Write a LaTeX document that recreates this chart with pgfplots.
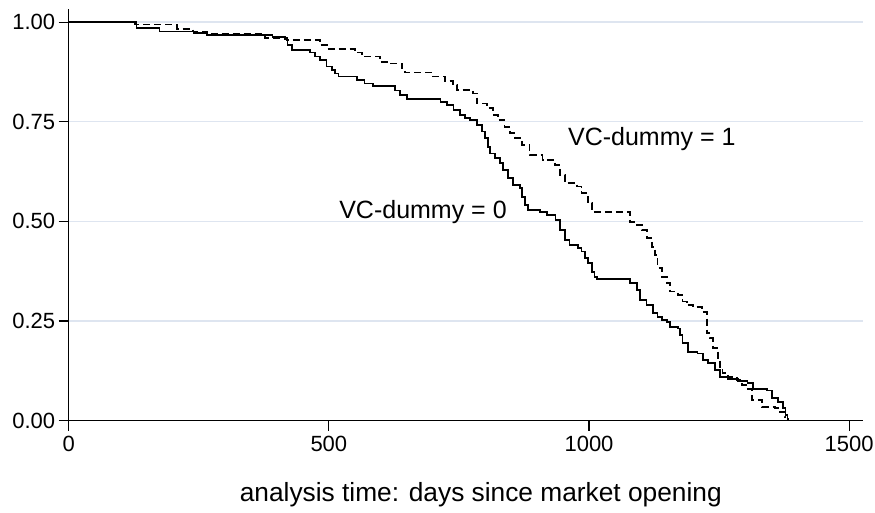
\documentclass[border=0pt]{standalone}
\usepackage{fontspec}
\setmainfont{Liberation Sans}
\usepackage{pgfplots}
\pgfplotsset{compat=1.18}

\definecolor{gridc}{RGB}{222,229,240}

\begin{document}
\begin{tikzpicture}
\useasboundingbox (-68.7pt,-91.3pt) rectangle (806.3pt,420.7pt);
\begin{axis}[
    at={(0,0)}, anchor=south west,
    scale only axis,
    width=794pt, height=411.4pt,
    xmin=0, xmax=1526,
    ymin=0, ymax=1.032,
    axis lines=left,
    axis line style={-, line width=1.3pt},
    xtick={0,500,1000,1500},
    xticklabels={0,500,1000,1500},
    ytick={0,0.25,0.5,0.75,1},
    yticklabels={0.00,0.25,0.50,0.75,1.00},
    tick align=outside,
    major tick length=10pt,
    tick style={black, line width=1.1pt},
    ymajorgrids,
    grid style={gridc, line width=1.2pt},
    ticklabel style={font=\fontsize{22}{26}\selectfont},
    xticklabel style={yshift=-2pt},
    xlabel={analysis time: days since market opening},
    xlabel style={font=\fontsize{26.3}{31}\selectfont, anchor=base,
        at={(axis description cs:0.519,0)}, yshift=-81pt},
    clip=false,
]

% VC-dummy = 0 (solid)
\addplot[const plot, black, line width=1.4pt] table {
0 1.000
130 0.985
175 0.977
240 0.973
265 0.968
392 0.963
416 0.957
421 0.942
429 0.930
464 0.923
473 0.913
483 0.905
496 0.888
506 0.880
512 0.871
518 0.863
554 0.855
569 0.846
585 0.840
627 0.829
637 0.817
650 0.807
714 0.799
727 0.792
739 0.779
752 0.767
762 0.759
771 0.754
785 0.742
794 0.725
800 0.709
806 0.687
810 0.671
819 0.659
829 0.646
835 0.629
844 0.609
854 0.591
867 0.584
871 0.561
877 0.541
883 0.529
906 0.524
919 0.516
935 0.503
944 0.478
954 0.453
963 0.441
979 0.433
986 0.424
992 0.408
998 0.396
1006 0.373
1011 0.360
1015 0.355
1079 0.345
1092 0.328
1098 0.303
1111 0.290
1123 0.270
1132 0.260
1140 0.253
1150 0.248
1156 0.235
1171 0.231
1175 0.215
1180 0.195
1190 0.172
1209 0.169
1219 0.152
1229 0.145
1242 0.127
1252 0.110
1267 0.105
1286 0.100
1305 0.095
1315 0.080
1342 0.076
1352 0.057
1363 0.047
1373 0.032
1378 0.014
1382 0.004
1384 0.004
};

% VC-dummy = 1 (dashed)
\addplot[const plot, black, line width=1.5pt, dash pattern=on 7pt off 4pt] table {
0 1.000
127 0.994
208 0.982
239 0.976
266 0.970
377 0.960
420 0.955
483 0.942
496 0.932
550 0.924
564 0.913
598 0.900
612 0.896
641 0.884
646 0.873
700 0.863
723 0.852
739 0.842
746 0.829
777 0.821
785 0.796
804 0.784
815 0.767
825 0.754
838 0.737
848 0.722
858 0.709
871 0.692
886 0.666
911 0.654
935 0.641
944 0.616
954 0.596
977 0.587
986 0.571
998 0.546
1006 0.524
1079 0.499
1092 0.491
1102 0.478
1111 0.458
1121 0.436
1127 0.416
1132 0.383
1140 0.361
1150 0.345
1156 0.324
1171 0.315
1180 0.299
1188 0.290
1200 0.285
1217 0.273
1227 0.220
1232 0.207
1238 0.182
1248 0.157
1252 0.132
1257 0.120
1267 0.110
1284 0.102
1294 0.090
1303 0.080
1313 0.052
1332 0.034
1357 0.032
1367 0.022
1376 0.009
1378 0.009
};

\node[anchor=base west, inner sep=0pt, font=\fontsize{25}{30}\selectfont]
    at (axis cs:959.5,0.6915) {VC-dummy = 1};
\node[anchor=base east, inner sep=0pt, font=\fontsize{25}{30}\selectfont]
    at (axis cs:842.2,0.5077) {VC-dummy = 0};
\end{axis}
\end{tikzpicture}
\end{document}
